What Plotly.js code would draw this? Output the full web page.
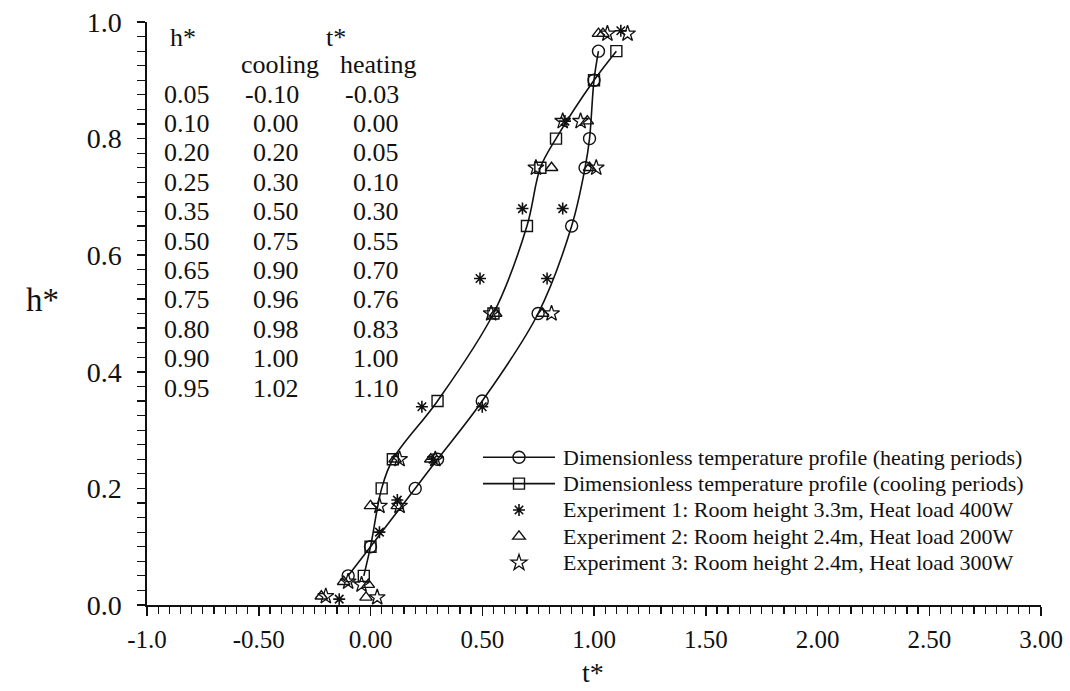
<!DOCTYPE html>
<html>
<head>
<meta charset="utf-8">
<script src="https://cdn.plot.ly/plotly-3.0.1.min.js"></script>
<style>html,body{margin:0;padding:0;background:#fff;}#chart{width:1070px;height:691px;}</style>
</head>
<body>
<div id="chart"></div>
<script>
// Table values (h*, t* cooling, t* heating) as printed in the chart
const hTable = [0.05, 0.10, 0.20, 0.25, 0.35, 0.50, 0.65, 0.75, 0.80, 0.90, 0.95];
const tCoolingTable = [-0.10, 0.00, 0.20, 0.30, 0.50, 0.75, 0.90, 0.96, 0.98, 1.00, 1.02];
const tHeatingTable = [-0.03, 0.00, 0.05, 0.10, 0.30, 0.55, 0.70, 0.76, 0.83, 1.00, 1.10];
const hLabels = ["0.05","0.10","0.20","0.25","0.35","0.50","0.65","0.75","0.80","0.90","0.95"];
const coolLabels = ["-0.10","0.00","0.20","0.30","0.50","0.75","0.90","0.96","0.98","1.00","1.02"];
const heatLabels = ["-0.03","0.00","0.05","0.10","0.30","0.55","0.70","0.76","0.83","1.00","1.10"];

// Curves as drawn: circles follow the first t* column, squares the second
const circleT = tCoolingTable;
const squareT = tHeatingTable;

// Experiment 1 (asterisks)
const exp1T = [-0.14, 0.04, 0.12, 0.28, 0.23, 0.50, 0.49, 0.79, 0.68, 0.86, 0.87, 1.12];
const exp1H = [0.010, 0.125, 0.18, 0.25, 0.34, 0.34, 0.56, 0.56, 0.68, 0.68, 0.83, 0.985];
// Experiment 2 (triangles)
const exp2T = [-0.22, -0.12, -0.01, -0.02, 0.00, 0.12, 0.11, 0.27, 0.56, 0.77, 0.81, 0.98, 0.97, 1.02, 1.04];
const exp2H = [0.015, 0.040, 0.035, 0.013, 0.17, 0.17, 0.25, 0.25, 0.50, 0.50, 0.75, 0.75, 0.83, 0.98, 0.98];
// Experiment 3 (stars)
const exp3T = [-0.20, -0.10, -0.04, 0.03, 0.04, 0.13, 0.13, 0.29, 0.54, 0.81, 0.74, 1.01, 0.86, 0.94, 1.06, 1.15];
const exp3H = [0.015, 0.040, 0.035, 0.013, 0.17, 0.17, 0.25, 0.25, 0.50, 0.50, 0.75, 0.75, 0.83, 0.83, 0.98, 0.98];

const xTickVals = [-1, -0.5, 0, 0.5, 1, 1.5, 2, 2.5, 3];
const xTickText = ["-1.0", "-0.50", "0.00", "0.50", "1.00", "1.50", "2.00", "2.50", "3.00"];
const yTickVals = [0, 0.2, 0.4, 0.6, 0.8, 1.0];
const yTickText = ["0.0", "0.2", "0.4", "0.6", "0.8", "1.0"];

const legendNames = [
  "Dimensionless temperature profile (heating periods)",
  "Dimensionless temperature profile (cooling periods)",
  "Experiment 1: Room height 3.3m, Heat load 400W",
  "Experiment 2: Room height 2.4m, Heat load 200W",
  "Experiment 3: Room height 2.4m, Heat load 300W"
];

const FONT = "Liberation Serif, Times New Roman, serif";
const ML = 147, MR = 29, MT = 22, MB = 86, W = 1070, H = 691;
const PW = W - ML - MR, PH = H - MT - MB;
const px = x => (x - ML) / PW;
const py = y => (H - MB - y) / PH;
const LEG_ROW = 26.4;

// legend glyphs come from Plotly's legend; the legend labels are set as
// annotations beside them so the rows stay compact like in the original
const traces = [
  {x: circleT, y: hTable, name: " ", mode: "lines+markers",
   line: {color: "#111", width: 1.6, shape: "spline", smoothing: 1},
   marker: {symbol: "circle-open", size: 12, color: "#111", line: {width: 1.4, color: "#111"}}},
  {x: squareT, y: hTable, name: " ", mode: "lines+markers",
   line: {color: "#111", width: 1.6, shape: "spline", smoothing: 1},
   marker: {symbol: "square-open", size: 11, color: "#111", line: {width: 1.4, color: "#111"}}},
  {x: exp1T, y: exp1H, name: " ", mode: "markers",
   marker: {symbol: "asterisk-open", size: 10, color: "#111", line: {width: 1.6, color: "#111"}}},
  {x: exp2T, y: exp2H, name: " ", mode: "markers",
   marker: {symbol: "triangle-up-open", size: 11, color: "#111", line: {width: 1.4, color: "#111"}}},
  {x: exp3T, y: exp3H, name: " ", mode: "markers",
   marker: {symbol: "star-open", size: 12, color: "#111", line: {width: 1.3, color: "#111"}}}
];

const annotations = [];
const tf = {family: FONT, size: 26, color: "#111"};
annotations.push({xref: "paper", yref: "paper", x: px(183), y: py(37), text: "h*", showarrow: false, xanchor: "center", yanchor: "middle", font: tf});
annotations.push({xref: "paper", yref: "paper", x: px(336), y: py(37), text: "t*", showarrow: false, xanchor: "center", yanchor: "middle", font: tf});
annotations.push({xref: "paper", yref: "paper", x: px(280), y: py(65), text: "cooling", showarrow: false, xanchor: "center", yanchor: "middle", font: tf});
annotations.push({xref: "paper", yref: "paper", x: px(378), y: py(65), text: "heating", showarrow: false, xanchor: "center", yanchor: "middle", font: tf});
for (let i = 0; i < hLabels.length; i++) {
  const yy = py(94 + 29.4 * i);
  annotations.push({xref: "paper", yref: "paper", x: px(212), y: yy, text: hLabels[i], showarrow: false, xanchor: "right", yanchor: "middle", font: tf});
  annotations.push({xref: "paper", yref: "paper", x: px(301), y: yy, text: coolLabels[i], showarrow: false, xanchor: "right", yanchor: "middle", font: tf});
  annotations.push({xref: "paper", yref: "paper", x: px(401), y: yy, text: heatLabels[i], showarrow: false, xanchor: "right", yanchor: "middle", font: tf});
}
for (let i = 0; i < legendNames.length; i++) {
  annotations.push({xref: "paper", yref: "paper", x: px(561), y: py(457 + LEG_ROW * i), text: legendNames[i],
    showarrow: false, xanchor: "left", yanchor: "middle", font: {family: FONT, size: 22, color: "#111"}});
}
annotations.push({xref: "paper", yref: "paper", x: px(42), y: py(300), text: "h*", showarrow: false, xanchor: "center", yanchor: "middle", font: {family: FONT, size: 33, color: "#111"}});
annotations.push({xref: "paper", yref: "paper", x: px(593), y: py(690), text: "t*", showarrow: false, xanchor: "center", yanchor: "bottom", font: {family: FONT, size: 28, color: "#111"}});

const layout = {
  width: W, height: H,
  margin: {l: ML, r: MR, t: MT, b: MB},
  paper_bgcolor: "#fff", plot_bgcolor: "#fff",
  font: {family: FONT, color: "#111"},
  showlegend: true,
  legend: {x: px(478), y: py(439), xanchor: "left", yanchor: "top",
           font: {family: FONT, size: 18, color: "#111"}, bgcolor: "rgba(0,0,0,0)",
           tracegroupgap: 0, itemwidth: 72},
  xaxis: {range: [-1, 3], tickmode: "array", tickvals: xTickVals, ticktext: xTickText,
          showgrid: false, zeroline: false, showline: true, linecolor: "#111", linewidth: 1.6,
          ticks: "outside", ticklen: 9, tickwidth: 1.5, tickcolor: "#111",
          tickfont: {family: FONT, size: 25, color: "#111"}, ticklabelstandoff: 2,
          minor: {tickmode: "linear", tick0: -1, dtick: 0.05, ticks: "outside", ticklen: 7, tickwidth: 1.2, tickcolor: "#111", showgrid: false}},
  yaxis: {range: [0, 1], tickmode: "array", tickvals: yTickVals, ticktext: yTickText,
          showgrid: false, zeroline: false, showline: true, linecolor: "#111", linewidth: 1.6,
          ticks: "outside", ticklen: 8, tickwidth: 1.5, tickcolor: "#111",
          tickfont: {family: FONT, size: 28, color: "#111"}, ticklabelstandoff: 10,
          minor: {tickmode: "linear", tick0: 0, dtick: 0.025, ticks: "outside", ticklen: 8, tickwidth: 1.2, tickcolor: "#111", showgrid: false}},
  annotations: annotations
};

Plotly.newPlot("chart", traces, layout, {displayModeBar: false, staticPlot: true});
</script>
</body>
</html>
